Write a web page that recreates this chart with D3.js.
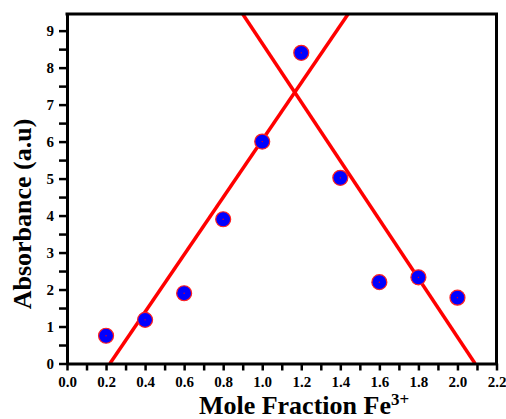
<!DOCTYPE html>
<html>
<head>
<meta charset="utf-8">
<script src="https://cdn.jsdelivr.net/npm/d3@7"></script>
<style>
  html, body { margin: 0; padding: 0; background: #fff; }
  svg { display: block; }
  .tick text { font-family: "Liberation Serif", "Times New Roman", serif; font-weight: bold; font-size: 15px; fill: #000; }
</style>
</head>
<body>
<svg id="chart" width="506" height="419"></svg>
<script>
// Job's plot: absorbance versus mole fraction of Fe3+
const moleFraction = [0.2, 0.4, 0.6, 0.8, 1.0, 1.2, 1.4, 1.6, 1.8, 2.0];
const absorbance   = [0.75, 1.18, 1.9, 3.9, 6.0, 8.4, 5.02, 2.2, 2.33, 1.78];

// Straight-line fits for the two branches (end points in data units)
const risingFit  = [[0.22, 0], [1.44, 9.45]];
const fallingFit = [[0.90, 9.45], [2.09, 0]];

const xMajorTicks = [0, 0.2, 0.4, 0.6, 0.8, 1.0, 1.2, 1.4, 1.6, 1.8, 2.0, 2.2];
const xMinorTicks = [0.1, 0.3, 0.5, 0.7, 0.9, 1.1, 1.3, 1.5, 1.7, 1.9, 2.1];
const yMajorTicks = [0, 1, 2, 3, 4, 5, 6, 7, 8, 9];
const yMinorTicks = [0.5, 1.5, 2.5, 3.5, 4.5, 5.5, 6.5, 7.5, 8.5];

const svg = d3.select("#chart");
const plotL = 67, plotR = 496.5, plotT = 14, plotB = 363.5;
const serif = '"Liberation Serif", "Times New Roman", serif';

const x = d3.scaleLinear().domain([0, 2.2]).range([plotL, plotR]);
const y = d3.scaleLinear().domain([0, 9.45]).range([plotB, plotT]);

svg.append("defs").append("clipPath").attr("id", "plotArea")
  .append("rect").attr("x", plotL).attr("y", plotT)
  .attr("width", plotR - plotL).attr("height", plotB - plotT);

// fitted lines
const line = d3.line().x(d => x(d[0])).y(d => y(d[1]));
const fits = svg.append("g").attr("clip-path", "url(#plotArea)");
[risingFit, fallingFit].forEach(pts => {
  fits.append("path").attr("d", line(pts))
    .attr("fill", "none").attr("stroke", "#ff0000").attr("stroke-width", 3.5);
});

// data points
const pts = svg.append("g");
moleFraction.forEach((mf, i) => {
  pts.append("circle").attr("cx", x(mf)).attr("cy", y(absorbance[i])).attr("r", 7.5)
    .attr("fill", "#0000ff").attr("stroke", "#ff2020").attr("stroke-width", 1.2);
  pts.append("circle").attr("cx", x(mf)).attr("cy", y(absorbance[i])).attr("r", 0.7)
    .attr("fill", "#ff0000");
});

// frame: top and right borders
svg.append("path")
  .attr("d", `M${plotL},${plotT}H${plotR}V${plotB}`)
  .attr("fill", "none").attr("stroke", "#000").attr("stroke-width", 3)
  .attr("stroke-linecap", "square");

function styleAxis(g) {
  g.select(".domain").attr("stroke", "#000").attr("stroke-width", 3);
  g.selectAll(".tick line").attr("stroke", "#000").attr("stroke-width", 2.5);
}

// x axis
const xMinor = svg.append("g").attr("transform", `translate(0,${plotB})`)
  .call(d3.axisBottom(x).tickValues(xMinorTicks).tickSize(7).tickFormat(""));
xMinor.select(".domain").remove();
xMinor.selectAll(".tick line").attr("stroke", "#000").attr("stroke-width", 2.5);
svg.append("g").attr("transform", `translate(0,${plotB})`)
  .call(d3.axisBottom(x).tickValues(xMajorTicks).tickSize(7).tickSizeOuter(0).tickPadding(6)
    .tickFormat(d3.format(".1f")))
  .call(styleAxis);

// y axis
const yMinor = svg.append("g").attr("transform", `translate(${plotL},0)`)
  .call(d3.axisLeft(y).tickValues(yMinorTicks).tickSize(8).tickFormat(""));
yMinor.select(".domain").remove();
yMinor.selectAll(".tick line").attr("stroke", "#000").attr("stroke-width", 2.5);
svg.append("g").attr("transform", `translate(${plotL},0)`)
  .call(d3.axisLeft(y).tickValues(yMajorTicks).tickSize(8).tickSizeOuter(0).tickPadding(5)
    .tickFormat(d3.format("d")))
  .call(styleAxis);

// axis titles
const xTitle = svg.append("text")
  .attr("x", 304).attr("y", 413.5).attr("text-anchor", "middle")
  .style("font-family", serif)
  .style("font-weight", "bold").style("font-size", "26px");
xTitle.append("tspan").text("Mole Fraction Fe");
xTitle.append("tspan").attr("dy", -9).style("font-size", "17px").text("3+");

svg.append("text")
  .attr("transform", "translate(31,214) rotate(-90)")
  .attr("text-anchor", "middle")
  .style("font-family", serif)
  .style("font-weight", "bold").style("font-size", "26px")
  .text("Absorbance (a.u)");
</script>
</body>
</html>
